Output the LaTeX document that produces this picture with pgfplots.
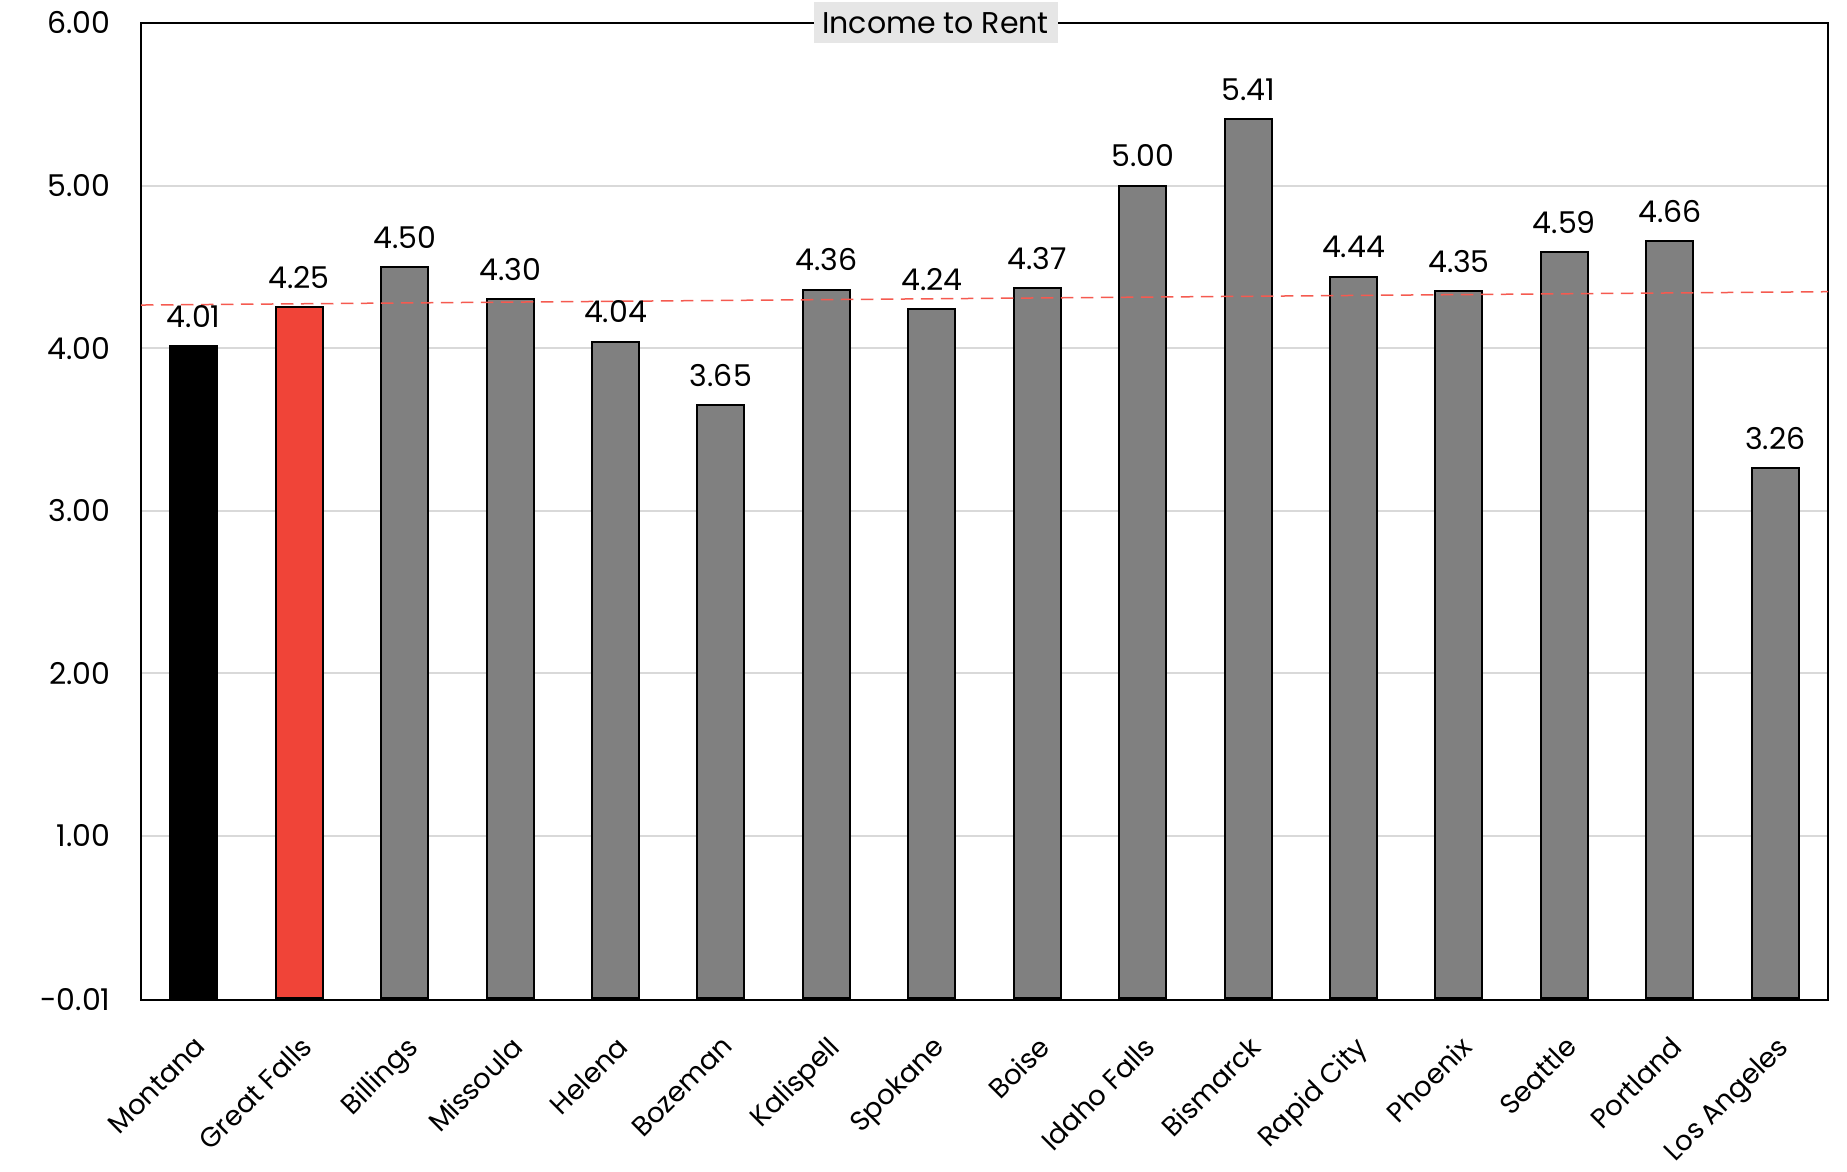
\documentclass[border=0pt]{standalone}
\usepackage{fontspec}
\setmainfont{Poppins}
\usepackage{pgfplots}
\pgfplotsset{compat=1.18}
\usepackage{pgfplotstable}

\definecolor{barred}{HTML}{F04438}
\definecolor{bargray}{HTML}{808080}
\definecolor{gridgray}{HTML}{D9D9D9}
\definecolor{trendred}{HTML}{F55A50}
\definecolor{titlebg}{HTML}{E6E6E6}

% income-to-rent ratio by place
\pgfplotstableread{
x  ratio
2  4.50
3  4.30
4  4.04
5  3.65
6  4.36
7  4.24
8  4.37
9  5.00
10 5.41
11 4.44
12 4.35
13 4.59
14 4.66
15 3.26
}\otherplaces

\begin{document}
\begin{tikzpicture}
\fontsize{12pt}{14pt}\selectfont
\path (-56.4pt,-68.4pt) rectangle (682.4pt,400pt);
\begin{axis}[
  scale only axis,
  width=674.8pt, height=390.8pt,
  xmin=-0.5, xmax=15.5,
  ymin=-0.01, ymax=6,
  axis line style={black, line width=1pt},
  ybar, bar width=18.8pt, bar shift=0pt,
  ytick={-0.01,1,2,3,4,5,6},
  yticklabels={-0.01,1.00,2.00,3.00,4.00,5.00,6.00},
  xtick={0,...,15},
  xticklabels={Montana,Great Falls,Billings,Missoula,Helena,Bozeman,Kalispell,Spokane,Boise,Idaho Falls,Bismarck,Rapid City,Phoenix,Seattle,Portland,Los Angeles},
  major tick length=0pt,
  ymajorgrids, grid style={gridgray, line width=0.8pt},
  yticklabel style={font=\fontsize{12pt}{14pt}\selectfont, xshift=-8pt},
  xticklabel style={font=\fontsize{11pt}{13pt}\selectfont, rotate=45, anchor=north east,
    inner sep=1pt, yshift=-8.5pt, xshift=-8.6pt},
  /pgf/number format/assume math mode=true,
  nodes near coords,
  nodes near coords style={font=\fontsize{12pt}{14pt}\selectfont, anchor=south, yshift=3pt,
    /pgf/number format/.cd, fixed, fixed zerofill, precision=2},
  clip=false,
]
\addplot[fill=black, draw=black, line width=0.8pt] coordinates {(0,4.01)};
\addplot[fill=barred, draw=black, line width=0.8pt] coordinates {(1,4.25)};
\addplot[fill=bargray, draw=black, line width=0.8pt] table[x=x, y=ratio] {\otherplaces};
% linear trend across all places
\addplot[sharp plot, no marks, nodes near coords={}, trendred, line width=0.6pt, dash pattern=on 5pt off 3pt]
  coordinates {(-0.5,4.265) (15.5,4.347)};
\node[fill=titlebg, inner xsep=3.5pt, inner ysep=0pt, minimum height=16.4pt,
      font=\fontsize{12pt}{14pt}\selectfont]
  at (rel axis cs:0.471,1) {Income to Rent};
\end{axis}
\end{tikzpicture}
\end{document}
